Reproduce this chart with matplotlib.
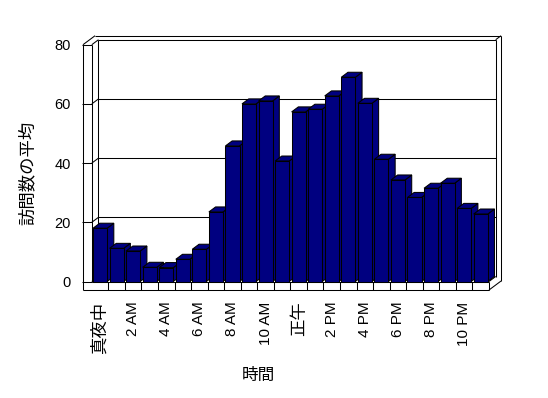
import matplotlib
matplotlib.use("Agg")
import matplotlib.pyplot as plt
from matplotlib.patches import Polygon

# ---- data ----
hours = list(range(24))
visits = [18, 11.2, 10.3, 4.8, 4.7, 7.5, 10.9, 23.5, 45.8, 60.0, 61.0, 40.7,
          57.3, 58.2, 62.7, 69.0, 60.2, 41.3, 34.3, 28.4, 31.5, 33.2, 24.7, 22.8]
tick_pos = list(range(0, 24, 2))
tick_labels = ["真夜中", "2 AM", "4 AM", "6 AM", "8 AM", "10 AM",
               "正午", "2 PM", "4 PM", "6 PM", "8 PM", "10 PM"]
y_ticks = [0, 20, 40, 60, 80]
y_label = "訪問数の平均"
x_label = "時間"

LATIN = ["Liberation Sans", "Noto Sans CJK JP"]
CJK = ["Noto Sans CJK JP", "DejaVu Sans"]

W, H = 548, 398
fig = plt.figure(figsize=(W / 100, H / 100), dpi=100)
# front plane in pixels: x -0.5 -> 91.8, 23.5 -> 489 ; y 0 -> 281.5, 80 -> 44.7
left_px, right_px = 91.8, 489.0
bot_px, top_px = 281.5, 44.7
ax = fig.add_axes([left_px / W, 1 - bot_px / H,
                   (right_px - left_px) / W, (bot_px - top_px) / H])
ax.set_xlim(-0.5, 23.5)
ax.set_ylim(0, 80)
for s in ax.spines.values():
    s.set_visible(False)

cat_px = (right_px - left_px) / 24
val_px = (bot_px - top_px) / 80
DX = 6.7 / cat_px          # depth offset in category units
DY = 5.0 / val_px          # depth offset in value units
OUT = 1.8                  # outer wall depth factor
wall_x = -0.5 - 8.8 / cat_px
stub_x = -0.5 - 10.1 / cat_px
floor_y = -8.5 / val_px
LW = 0.75
ln = dict(color="black", lw=LW, clip_on=False, solid_capstyle="butt")

x0, x1 = -0.5, 23.5
# back wall gridlines and left wall segments
for v in y_ticks:
    ax.plot([stub_x, x0], [v, v], zorder=1, **ln)
    ax.plot([x0, x0 + DX], [v, v + DY], zorder=1, **ln)
    if v > 0:
        ax.plot([x0 + DX, x1 + DX], [v + DY, v + DY], zorder=1, **ln)
# walls
ax.plot([wall_x, wall_x], [floor_y, 80], zorder=1, **ln)
ax.plot([x0, x0], [0, 80], zorder=1, **ln)
ax.plot([x0 + DX, x0 + DX], [DY, 80 + DY], zorder=1, **ln)
ax.plot([wall_x, wall_x + OUT * DX], [80, 80 + OUT * DY], zorder=1, **ln)
ax.plot([wall_x + OUT * DX, x1 + OUT * DX], [80 + OUT * DY, 80 + OUT * DY], zorder=1, **ln)
ax.plot([x1 + DX, x1 + DX], [DY, 80 + DY], zorder=1, **ln)
ax.plot([x1 + DX, x1 + OUT * DX], [80 + DY, 80 + OUT * DY], zorder=1, **ln)
ax.plot([x1 + OUT * DX, x1 + OUT * DX], [floor_y + OUT * DY, 80 + OUT * DY], zorder=1, **ln)
# floor
ax.plot([wall_x, x1], [floor_y, floor_y], zorder=1, **ln)
ax.plot([x0, x1], [0, 0], zorder=1, **ln)
for b in [i + 0.5 for i in range(24)]:
    ax.plot([b, b], [floor_y, 0], zorder=1, **ln)
ax.plot([x1, x1 + DX], [0, DY], zorder=1, **ln)
ax.plot([x1, x1 + OUT * DX], [floor_y, floor_y + OUT * DY], zorder=1, **ln)

# bars
bw = 0.85
bars = ax.bar(hours, visits, width=bw, color="#000080", edgecolor="black",
              linewidth=LW)
for i, (h, v, p) in enumerate(zip(hours, visits, bars.patches)):
    z = 3 + i * 0.01
    xl, xr = h - bw / 2, h + bw / 2
    side = Polygon([(xr, 0), (xr + DX, DY), (xr + DX, v + DY), (xr, v)],
                   closed=True, facecolor="#000080", edgecolor="black",
                   lw=LW, zorder=z, clip_on=False)
    top = Polygon([(xl, v), (xl + DX, v + DY), (xr + DX, v + DY), (xr, v)],
                  closed=True, facecolor="#000080", edgecolor="black",
                  lw=LW, zorder=z, clip_on=False)
    ax.add_patch(side)
    ax.add_patch(top)
    p.set_zorder(z + 0.005)
    p.set_clip_on(False)

# ticks / labels
ax.set_yticks(y_ticks)
ax.set_yticklabels([str(t) for t in y_ticks], family=LATIN, fontsize=10.5)
ax.tick_params(axis="y", length=0, pad=15)
ax.set_xticks(tick_pos)
ax.set_xticklabels(tick_labels, rotation=90, family=LATIN, fontsize=11)
for t in ax.get_xticklabels():
    if not any(c.isascii() for c in t.get_text()):
        t.set_fontsize(12.5)
        t.set_family(CJK)
ax.tick_params(axis="x", length=0, pad=14.5)

ax.set_ylabel(y_label, family=CJK, fontsize=12.5)
ax.yaxis.label.set_va("center")
ax.yaxis.set_label_coords((28 - left_px) / (right_px - left_px),
                          (bot_px - 173) / (bot_px - top_px))
ax.set_xlabel(x_label, family=CJK, fontsize=12)
ax.xaxis.label.set_va("center")
ax.xaxis.set_label_coords((258 - left_px) / (right_px - left_px),
                          (bot_px - 375) / (bot_px - top_px))

fig.savefig("out.png", dpi=100)
